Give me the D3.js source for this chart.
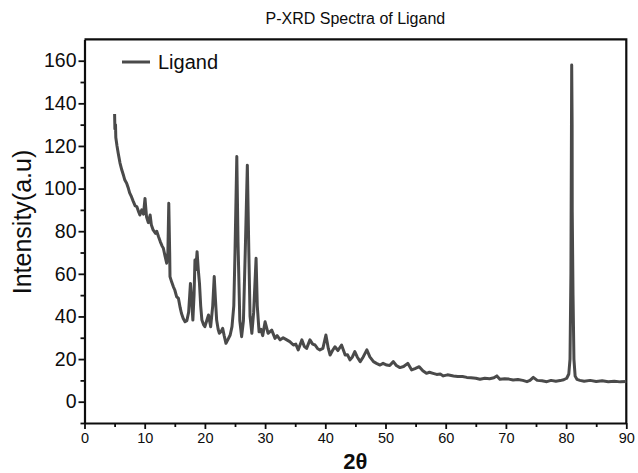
<!DOCTYPE html>
<html>
<head>
<meta charset="utf-8">
<script src="https://cdn.jsdelivr.net/npm/d3@7"></script>
<style>
  body { margin: 0; background: #fff; }
  svg { font-family: 'Liberation Sans', Arial, sans-serif; }
</style>
</head>
<body>
<svg id="chart" width="638" height="473"></svg>
<script>
// P-XRD pattern of the ligand
const twoTheta = [
  5.0, 5.05, 5.15, 5.2, 5.4, 5.6, 5.9, 6.2, 6.5, 6.7, 7.0, 7.3, 7.5, 7.8, 8.1, 8.4, 8.7, 9.0, 9.2, 9.5,
  9.8, 10.05, 10.3, 10.6, 10.9, 11.1, 11.4, 11.8, 12.0, 12.3, 12.6, 12.9, 13.1, 13.4, 13.65, 13.85, 14.0, 14.15, 14.2, 14.5,
  14.75, 15.0, 15.3, 15.6, 15.9, 16.1, 16.4, 16.7, 17.0, 17.3, 17.6, 17.8, 18.0, 18.2, 18.35, 18.5, 18.7, 18.9, 19.1, 19.3,
  19.5, 19.8, 20.0, 20.3, 20.6, 20.96, 21.3, 21.55, 21.75, 21.95, 22.2, 22.4, 22.7, 22.95, 23.2, 23.5, 23.8, 24.2, 24.5, 24.8,
  25.0, 25.3, 25.5, 25.8, 26.1, 26.4, 26.7, 27.05, 27.3, 27.5, 27.8, 28.1, 28.5, 28.7, 29.0, 29.3, 29.6, 30.0, 30.5, 31.1,
  31.65, 32.0, 32.5, 33.0, 33.6, 34.1, 34.7, 35.1, 35.5, 36.1, 36.5, 36.9, 37.45, 37.9, 38.3, 38.7, 39.1, 39.6, 40.1, 40.5,
  40.8, 41.2, 41.6, 42.1, 42.7, 43.3, 43.7, 44.1, 44.5, 44.9, 45.3, 45.8, 46.3, 46.9, 47.4, 48.0, 48.5, 49.1, 49.6, 50.2,
  50.7, 51.3, 51.8, 52.4, 53.0, 53.7, 54.35, 54.9, 55.6, 56.2, 56.8, 57.3, 57.9, 58.5, 59.1, 59.6, 60.3, 61.3, 62.0, 62.8,
  63.5, 64.2, 65.0, 65.7, 66.5, 67.3, 68.0, 68.5, 69.0, 69.8, 70.5, 71.2, 72.0, 72.8, 73.5, 74.0, 74.55, 75.2, 76.0, 76.8,
  77.5, 78.3, 79.0, 79.6, 80.1, 80.45, 80.65, 80.8, 80.93, 81.0, 81.02, 81.15, 81.3, 81.5, 81.8, 82.3, 83.0, 84.0, 85.0, 86.0,
  87.0, 88.0, 89.0, 90.0
]
const intensity = [
  135, 128, 130, 124, 120, 116.6, 112, 108.7, 106, 104, 102.5, 100, 98, 96.2, 94, 92, 91.5, 89, 87.6, 90,
  88, 95.4, 86.8, 84, 87.6, 83, 80.6, 79, 80, 77.4, 75, 73, 72, 68, 65, 70, 93.1, 70, 58.7, 56,
  54, 52.4, 49.3, 48.5, 44, 41.5, 39, 37.5, 38, 42, 55.5, 48, 38.3, 50, 66.5, 62, 70.4, 62, 55.5, 45,
  38.3, 36, 35.2, 38, 40.7, 35.2, 45, 58.7, 48, 38.3, 34, 32.1, 33, 34.4, 31, 27.4, 29, 31.3, 35.2, 45,
  70, 115, 75, 38, 30.5, 38, 70, 111, 70, 40, 32.1, 42, 67.3, 45, 32.8, 34, 31, 37.5, 32.1, 33.6,
  29.7, 31, 29, 30, 29, 28.2, 26.6, 27, 24.3, 29, 26, 25, 29, 27, 26.6, 25, 24.3, 25, 31.3, 25,
  21.9, 24, 25.8, 24, 26.6, 21.9, 22, 19.6, 21, 23.5, 21, 18.8, 21, 24.3, 21, 18.8, 18, 17.2, 18, 17.2,
  17, 18.8, 17, 16, 16.5, 18, 14.9, 15.5, 16.4, 14.5, 13.3, 13.8, 13.3, 12.8, 13, 12.1, 12.6, 12.1, 11.8, 11.8,
  11.4, 11.2, 11, 10.5, 11, 10.8, 11.2, 12.1, 10.5, 10.8, 10.6, 10.2, 10.4, 10, 9.4, 10, 11.4, 10, 9.8, 9.4,
  10, 9.6, 9.9, 10.3, 11, 13, 20, 60, 158, 130, 89, 50, 20, 12, 10.5, 10, 9.6, 10, 9.5, 9.8,
  9.4, 9.6, 9.3, 9.5
]
const xTicks = [0, 10, 20, 30, 40, 50, 60, 70, 80, 90]
const yTicks = [0, 20, 40, 60, 80, 100, 120, 140, 160]
const seriesName = 'Ligand'

const data = twoTheta.map((t, i) => ({ t, v: intensity[i] }))

const svg = d3.select('#chart')
const mLeft = 84.5, mRight = 626.3, mTop = 39.4, mBottom = 423
const ink = '#0d0d0d'
const traceColor = '#4a4a4a'

const x = d3.scaleLinear().domain([0, 90]).range([mLeft, mRight])
const y = d3.scaleLinear().domain([-10, 170]).range([mBottom, mTop])

// Title
svg.append('text')
  .attr('x', (mLeft + mRight) / 2)
  .attr('y', 24)
  .attr('text-anchor', 'middle')
  .style('font-size', '16px')
  .style('fill', ink)
  .text('P-XRD Spectra of Ligand')

// Minor ticks first (no labels)
svg.append('g')
  .attr('transform', `translate(0,${mBottom})`)
  .call(d3.axisBottom(x).tickValues(d3.range(5, 90, 10)).tickSize(4).tickFormat(''))
  .call(g => g.select('.domain').remove())
svg.append('g')
  .attr('transform', `translate(${mLeft},0)`)
  .call(d3.axisLeft(y).tickValues(d3.range(-10, 170, 20)).tickSize(4).tickFormat(''))
  .call(g => g.select('.domain').remove())

// Major axes
const xAxis = svg.append('g')
  .attr('transform', `translate(0,${mBottom})`)
  .call(d3.axisBottom(x).tickValues(xTicks).tickSize(6).tickSizeOuter(0).tickPadding(4))
xAxis.selectAll('text').style('font-size', '14.5px').style('fill', ink)

const yAxis = svg.append('g')
  .attr('transform', `translate(${mLeft},0)`)
  .call(d3.axisLeft(y).tickValues(yTicks).tickSize(6).tickSizeOuter(0).tickPadding(2))
yAxis.selectAll('text').style('font-size', '19.5px').style('fill', ink)

svg.selectAll('.tick line').attr('stroke', ink).attr('stroke-width', 1.8)
svg.selectAll('.domain').attr('stroke', ink).attr('stroke-width', 2.2)

// Frame top and right
svg.append('path')
  .attr('d', `M${mLeft},${mTop}H${mRight}V${mBottom}`)
  .attr('fill', 'none')
  .attr('stroke', ink)
  .attr('stroke-width', 2.2)

// Axis labels
svg.append('text')
  .attr('transform', `translate(31,222) rotate(-90)`)
  .attr('text-anchor', 'middle')
  .style('font-size', '25px')
  .style('fill', ink)
  .text('Intensity(a.u)')

svg.append('text')
  .attr('x', (mLeft + mRight) / 2)
  .attr('y', 469)
  .attr('text-anchor', 'middle')
  .style('font-size', '22px')
  .style('font-weight', 'bold')
  .style('fill', ink)
  .text('2θ')

// Spectrum
const line = d3.line().x(d => x(d.t)).y(d => y(d.v))
svg.append('path')
  .datum(data)
  .attr('fill', 'none')
  .attr('stroke', traceColor)
  .attr('stroke-width', 3)
  .attr('stroke-linejoin', 'round')
  .attr('d', line)

// Legend
const legend = svg.append('g').attr('transform', 'translate(122,62)')
legend.append('line')
  .attr('x1', 0).attr('x2', 28)
  .attr('stroke', traceColor)
  .attr('stroke-width', 3)
legend.append('text')
  .attr('x', 36)
  .attr('y', 7)
  .style('font-size', '20px')
  .style('fill', ink)
  .text(seriesName)
</script>
</body>
</html>
